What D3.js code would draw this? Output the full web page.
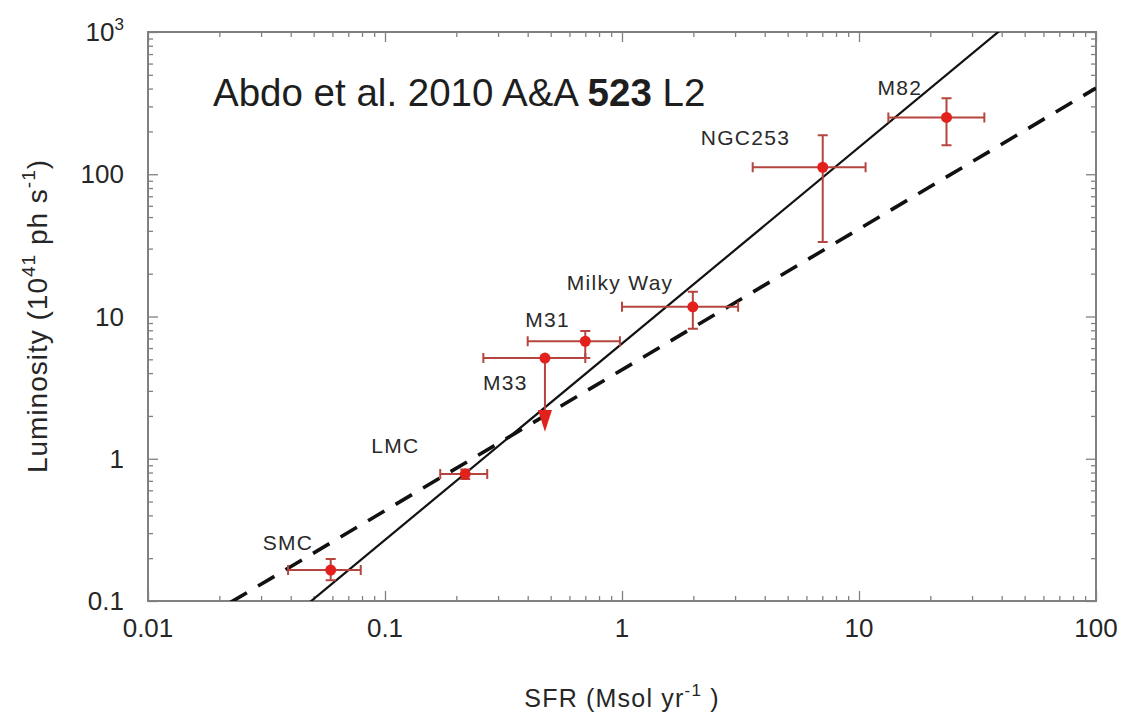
<!DOCTYPE html>
<html>
<head>
<meta charset="utf-8">
<script src="https://cdn.jsdelivr.net/npm/d3@7"></script>
<style>
  body { margin: 0; background: #fff; }
  svg text { font-family: "Liberation Sans", Arial, sans-serif; }
</style>
</head>
<body>
<div id="chart"></div>
<script>

// ---DATA---//

var galaxies = [ "SMC", "LMC", "M33", "M31", "Milky Way", "NGC253", "M82" ];

// star formation rate (Msol / yr) with lower / upper error ends
var sfr   = [ 0.059, 0.218, 0.473, 0.70, 1.99, 7.03, 23.4 ];
var sfrLo = [ 0.039, 0.171, 0.26,  0.40, 1.00, 3.56, 13.3 ];
var sfrHi = [ 0.079, 0.27,  0.70,  0.98, 3.09, 10.66, 33.8 ];

// gamma-ray luminosity (10^41 ph / s) with lower / upper error ends
var lum   = [ 0.165, 0.78, 5.1, 6.7, 11.7, 112, 251 ];
var lumLo = [ 0.14,  0.72, null, 5.1, 8.2,  33.4, 160 ];
var lumHi = [ 0.197, 0.84, null, 7.9, 14.9, 188, 342 ];

// M33 is an upper limit: arrow shaft end and tip
var limitIndex = 2;
var limitBase = 2.2;
var limitTip = 1.55;

// power-law fits L = norm * SFR^slope
var fitSolid = { slope : 1.38, norm : 6.45 };
var fitDashed = { slope : 0.99, norm : 4.22 };

var xTickValues = [ 0.01, 0.1, 1, 10, 100 ];
var xTickLabels = [ "0.01", "0.1", "1", "10", "100" ];
var yTickValues = [ 0.1, 1, 10, 100, 1000 ];
var yTickLabels = [ "0.1", "1", "10", "100", "10^3" ];

// ---LAYOUT---//

var width = 1122;
var height = 713;
var frame = { left : 148, right : 1096, top : 32, bottom : 601 };

var pointColor = "#e3211c";
var errorColor = "#b5453f";
var frameColor = "#808080";
var textColor = "#262626";

var svg = d3.select("#chart").append("svg")
	.attr("width", width)
	.attr("height", height);

var x = d3.scaleLog().domain([ 0.01, 100 ]).range([ frame.left, frame.right ]);
var y = d3.scaleLog().domain([ 0.1, 1000 ]).range([ frame.bottom, frame.top ]);

// major decades plus 2..9 minors
function minorTicks(scale) {
	var d = scale.domain(), out = [];
	for (var e = Math.round(Math.log10(d[0])); e < Math.round(Math.log10(d[1])); e++) {
		for (var m = 2; m <= 9; m++) {
			out.push(m * Math.pow(10, e));
		}
	}
	return out;
}// END: minorTicks

// ---AXES (ticks point inward on all four sides)---//

function drawAxis(axisFn, scale, transform, values, size) {
	svg.append("g")
		.attr("transform", transform)
		.call(axisFn(scale).tickValues(values).tickSizeInner(size)
			.tickSizeOuter(0).tickFormat(""))
		.call(function(g) {
			g.select(".domain").remove();
			g.selectAll(".tick line").attr("stroke", frameColor).attr("stroke-width", 1.3);
		});
}// END: drawAxis

var xMinor = minorTicks(x);
var yMinor = minorTicks(y);

drawAxis(d3.axisBottom, x, "translate(0," + frame.bottom + ")", xTickValues, -10);
drawAxis(d3.axisBottom, x, "translate(0," + frame.bottom + ")", xMinor, -5);
drawAxis(d3.axisTop, x, "translate(0," + frame.top + ")", xTickValues, -10);
drawAxis(d3.axisTop, x, "translate(0," + frame.top + ")", xMinor, -5);
drawAxis(d3.axisLeft, y, "translate(" + frame.left + ",0)", yTickValues, -10);
drawAxis(d3.axisLeft, y, "translate(" + frame.left + ",0)", yMinor, -5);
drawAxis(d3.axisRight, y, "translate(" + frame.right + ",0)", yTickValues, -10);
drawAxis(d3.axisRight, y, "translate(" + frame.right + ",0)", yMinor, -5);

svg.append("rect")
	.attr("x", frame.left)
	.attr("y", frame.top)
	.attr("width", frame.right - frame.left)
	.attr("height", frame.bottom - frame.top)
	.attr("fill", "none")
	.attr("stroke", frameColor)
	.attr("stroke-width", 2);

// tick labels
svg.append("g").selectAll("text").data(xTickValues).enter().append("text")
	.attr("x", function(d) { return x(d); })
	.attr("y", 637)
	.attr("text-anchor", "middle")
	.attr("font-size", 26)
	.attr("fill", textColor)
	.text(function(d, i) { return xTickLabels[i]; });

svg.append("g").selectAll("text").data(yTickValues).enter().append("text")
	.attr("x", 124)
	.attr("y", function(d) { return y(d) + 9; })
	.attr("text-anchor", "end")
	.attr("font-size", 26)
	.attr("fill", textColor)
	.each(function(d, i) {
		var parts = yTickLabels[i].split("^");
		var t = d3.select(this);
		t.append("tspan").text(parts[0]);
		if (parts.length > 1) {
			t.append("tspan").attr("font-size", 17).attr("dy", -11).text(parts[1]);
		}
	});

// axis titles
var xTitle = svg.append("text")
	.attr("x", 622)
	.attr("y", 707)
	.attr("text-anchor", "middle")
	.attr("font-size", 25)
	.attr("letter-spacing", 1.2)
	.attr("fill", textColor);
xTitle.append("tspan").text("SFR (Msol yr");
xTitle.append("tspan").attr("font-size", 17).attr("dy", -11).text("-1");
xTitle.append("tspan").attr("dy", 11).text(" )");

var yTitle = svg.append("text")
	.attr("transform", "translate(47,316) rotate(-90)")
	.attr("text-anchor", "middle")
	.attr("font-size", 28)
	.attr("letter-spacing", 1)
	.attr("fill", textColor);
yTitle.append("tspan").text("Luminosity (10");
yTitle.append("tspan").attr("font-size", 19).attr("dy", -12).text("41");
yTitle.append("tspan").attr("dy", 12).text(" ph s");
yTitle.append("tspan").attr("font-size", 19).attr("dy", -12).text("-1");
yTitle.append("tspan").attr("dy", 12).text(")");

// ---FIT LINES---//

svg.append("clipPath").attr("id", "plotClip").append("rect")
	.attr("x", frame.left)
	.attr("y", frame.top)
	.attr("width", frame.right - frame.left)
	.attr("height", frame.bottom - frame.top);

var plot = svg.append("g").attr("clip-path", "url(#plotClip)");

var line = d3.line()
	.x(function(d) { return x(d[0]); })
	.y(function(d) { return y(d[1]); });

function fitPoints(fit) {
	return x.domain().map(function(s) {
		return [ s, fit.norm * Math.pow(s, fit.slope) ];
	});
}// END: fitPoints

plot.append("path")
	.attr("d", line(fitPoints(fitSolid)))
	.attr("fill", "none")
	.attr("stroke", "#111")
	.attr("stroke-width", 2.2);

plot.append("path")
	.attr("d", line(fitPoints(fitDashed)))
	.attr("fill", "none")
	.attr("stroke", "#111")
	.attr("stroke-width", 3.6)
	.attr("stroke-dasharray", "19,13");

// ---ERROR BARS AND POINTS---//

var idx = d3.range(galaxies.length);
var cap = 5;
var bars = plot.append("g")
	.attr("stroke", errorColor)
	.attr("stroke-width", 2)
	.attr("fill", "none");

idx.forEach(function(i) {
	var cx = x(sfr[i]), cy = y(lum[i]);
	var x0 = x(sfrLo[i]), x1 = x(sfrHi[i]);
	bars.append("path").attr("d",
		"M" + x0 + "," + cy + "H" + x1 +
		"M" + x0 + "," + (cy - cap) + "V" + (cy + cap) +
		"M" + x1 + "," + (cy - cap) + "V" + (cy + cap));

	if (lumLo[i] !== null) {
		var y0 = y(lumLo[i]), y1 = y(lumHi[i]);
		bars.append("path").attr("d",
			"M" + cx + "," + y0 + "V" + y1 +
			"M" + (cx - cap) + "," + y0 + "H" + (cx + cap) +
			"M" + (cx - cap) + "," + y1 + "H" + (cx + cap));
	}
});

// upper-limit arrow
var ax = x(sfr[limitIndex]);
bars.append("path")
	.attr("d", "M" + ax + "," + y(lum[limitIndex]) + "V" + y(limitBase));
plot.append("path")
	.attr("d", "M" + (ax - 7) + "," + y(limitBase) + "L" + (ax + 7) + "," + y(limitBase) +
		"L" + ax + "," + y(limitTip) + "Z")
	.attr("fill", pointColor);

plot.append("g").selectAll("circle").data(idx).enter().append("circle")
	.attr("cx", function(i) { return x(sfr[i]); })
	.attr("cy", function(i) { return y(lum[i]); })
	.attr("r", 5.5)
	.attr("fill", pointColor);

// ---GALAXY LABELS---//

var labelOffsets = [ [ -68, -20 ], [ -94, -21 ], [ -62, 32 ], [ -60, -14 ],
		[ -126, -17 ], [ -122, -22 ], [ -69, -22 ] ];

svg.append("g").selectAll("text").data(idx).enter().append("text")
	.attr("x", function(i) { return x(sfr[i]) + labelOffsets[i][0]; })
	.attr("y", function(i) { return y(lum[i]) + labelOffsets[i][1]; })
	.attr("font-size", 21)
	.attr("letter-spacing", 1.3)
	.attr("fill", "#2a2a2a")
	.text(function(i) { return galaxies[i]; });

// ---REFERENCE NOTE---//

var note = svg.append("text")
	.attr("x", 213)
	.attr("y", 106)
	.attr("font-size", 38.5)
	.attr("fill", "#1e1e1e");
note.append("tspan").text("Abdo et al. 2010 A&A ");
note.append("tspan").attr("font-weight", "bold").text("523");
note.append("tspan").text(" L2");

</script>
</body>
</html>
